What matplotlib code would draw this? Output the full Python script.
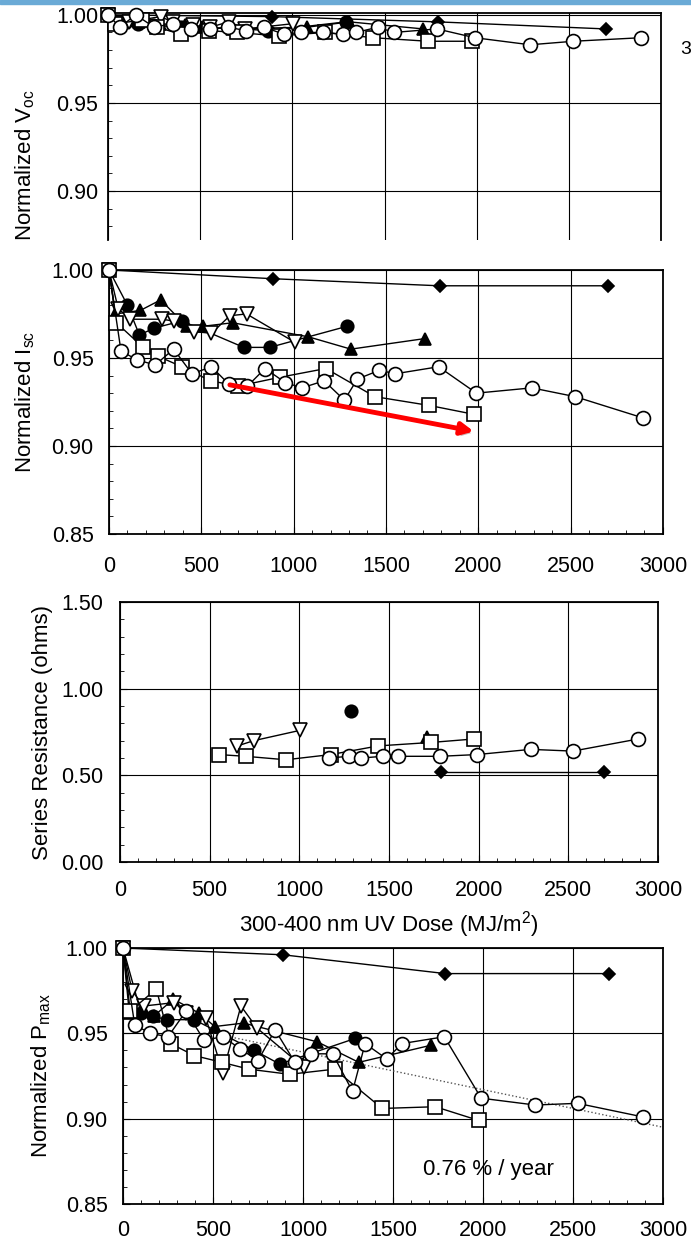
import numpy as np
import matplotlib.pyplot as plt
import matplotlib.patheffects as pe
from matplotlib.patches import Rectangle
from matplotlib.ticker import MultipleLocator, FormatStrFormatter

plt.rcParams['font.family'] = ['Liberation Sans', 'DejaVu Sans']
plt.rcParams['mathtext.default'] = 'regular'

# UV dose (MJ/m2) at which each module was measured
dia_x = [0, 890, 1790, 2700]
circ_x = [0, 65, 150, 250, 350, 450, 555, 650, 750, 845, 955, 1045, 1165,
          1275, 1345, 1465, 1550, 1785, 1990, 2290, 2525, 2890]
sq_x = [0, 40, 185, 265, 395, 550, 700, 925, 1175, 1440, 1735, 1975]
fcirc_x = [0, 100, 165, 245, 395, 730, 870, 1290]
ftri_x = [0, 35, 170, 280, 420, 510, 670, 1080, 1310, 1710]
dtri_x = [0, 50, 115, 285, 350, 460, 555, 655, 745, 1005]

# normalized Voc
voc_dia = [1.0, 0.999, 0.996, 0.992]
voc_circ = [1.0, 0.993, 1.0, 0.993, 0.995, 0.992, 0.992, 0.993, 0.991, 0.993, 0.989,
            0.990, 0.990, 0.989, 0.990, 0.993, 0.990, 0.992, 0.987, 0.983, 0.985, 0.987]
voc_sq = [1.0, 0.995, 0.997, 0.993, 0.989, 0.991, 0.990, 0.988, 0.990, 0.987, 0.985, 0.985]
voc_fcirc = [1.0, 0.996, 0.995, 0.994, 0.993, 0.992, 0.991, 0.996]
voc_ftri = [1.0, 0.995, 0.996, 0.995, 0.994, 0.993, 0.992, 0.993, 0.996, 0.992]
voc_dtri = [1.0, 0.995, 0.996, 0.999, 0.996, 0.994, 0.993, 0.996, 0.992, 0.995]

# normalized Isc
isc_dia = [1.0, 0.995, 0.991, 0.991]
isc_circ = [1.0, 0.954, 0.949, 0.946, 0.955, 0.941, 0.945, 0.935, 0.934, 0.944, 0.936,
            0.933, 0.937, 0.926, 0.938, 0.943, 0.941, 0.945, 0.930, 0.933, 0.928, 0.916]
isc_sq = [1.0, 0.970, 0.956, 0.951, 0.945, 0.937, 0.934, 0.939, 0.944, 0.928, 0.923, 0.918]
isc_fcirc = [1.0, 0.980, 0.963, 0.967, 0.971, 0.956, 0.956, 0.968]
isc_ftri = [1.0, 0.975, 0.977, 0.983, 0.968, 0.968, 0.970, 0.962, 0.955, 0.961]
isc_dtri = [1.0, 0.978, 0.972, 0.972, 0.971, 0.965, 0.964, 0.974, 0.975, 0.959]

# series resistance (ohms)
rs_dia_x = [1790, 2700]
rs_dia = [0.52, 0.52]
rs_circ_x = [1165, 1275, 1345, 1465, 1550, 1785, 1990, 2290, 2525, 2890]
rs_circ = [0.60, 0.61, 0.60, 0.61, 0.61, 0.61, 0.62, 0.65, 0.64, 0.71]
rs_sq_x = [550, 700, 925, 1175, 1440, 1735, 1975]
rs_sq = [0.62, 0.61, 0.59, 0.62, 0.67, 0.69, 0.71]
rs_fcirc_x = [1290]
rs_fcirc = [0.87]
rs_ftri_x = [1710]
rs_ftri = [0.72]
rs_dtri_x = [655, 745, 1005]
rs_dtri = [0.67, 0.70, 0.76]

# normalized Pmax
pm_dia = [1.0, 0.996, 0.985, 0.985]
pm_circ = [1.0, 0.955, 0.950, 0.948, 0.963, 0.946, 0.948, 0.941, 0.934, 0.952, 0.933,
           0.938, 0.938, 0.916, 0.944, 0.935, 0.944, 0.948, 0.912, 0.908, 0.909, 0.901]
pm_sq = [1.0, 0.963, 0.976, 0.944, 0.937, 0.933, 0.929, 0.926, 0.929, 0.906, 0.907, 0.899]
pm_fcirc = [1.0, 0.962, 0.960, 0.958, 0.958, 0.940, 0.932, 0.947]
pm_ftri = [1.0, 0.962, 0.960, 0.970, 0.962, 0.954, 0.956, 0.945, 0.933, 0.943]
pm_dtri = [1.0, 0.975, 0.966, 0.968, 0.962, 0.959, 0.927, 0.966, 0.953, 0.930]

# dotted trend line for Pmax
trend_x = [500, 3000]
trend_y = [0.950, 0.895]

# red arrow on the Isc panel
arrow_x = [640, 1990]
arrow_y = [0.935, 0.908]


# marker styles: diamond, filled triangle, filled circle, down triangle, square, circle
styles = [
    dict(marker="D", ms=6, mfc="black"),
    dict(marker="^", ms=9, mfc="black"),
    dict(marker="o", ms=9, mfc="black"),
    dict(marker="v", ms=9.5, mfc="white"),
    dict(marker="s", ms=9.5, mfc="white"),
    dict(marker="o", ms=10, mfc="white"),
]


def draw_series(ax, xs, ys):
    for x, y, st in zip(xs, ys, styles):
        ax.plot(x, y, color="black", lw=1.0, mec="black", mew=1.2,
                clip_on=False, zorder=3, **st)


def setup(ax, ylim, yticks, yminor, ypad, xpad):
    ax.set_xlim(0, 3000)
    ax.set_ylim(*ylim)
    ax.set_xticks(range(0, 3001, 500))
    ax.xaxis.set_minor_locator(MultipleLocator(100))
    ax.set_yticks(yticks)
    ax.yaxis.set_minor_locator(MultipleLocator(yminor))
    ax.yaxis.set_major_formatter(FormatStrFormatter("%.2f"))
    ax.grid(True, which="major", color="black", lw=0.8)
    ax.tick_params(which="both", direction="in", labelsize=15.5)
    ax.tick_params(which="major", length=5)
    ax.tick_params(which="minor", length=3)
    ax.tick_params(axis="y", pad=ypad)
    ax.tick_params(axis="x", pad=xpad)
    for s in ax.spines.values():
        s.set_linewidth(1.3)


fig = plt.figure(figsize=(6.91, 12.40), dpi=100)
fig.patches.append(Rectangle((0, 1 - 4 / 1240), 1, 4 / 1240, transform=fig.transFigure,
                             color="#6aaad6", zorder=0))
fig.text(0.984, 1 - 50 / 1240, "3", fontsize=14, va="center", ha="left")

# Voc (cut off at the bottom)
ax1 = fig.add_axes([0.1563, 0.8065, 0.8003, 0.1831])
setup(ax1, (0.8722, 1.0011), [0.90, 0.95, 1.00], 0.01, 7, 12)
ax1.spines["bottom"].set_visible(False)
ax1.tick_params(axis="x", which="both", bottom=False, labelbottom=False)
draw_series(ax1, [dia_x, ftri_x, fcirc_x, dtri_x, sq_x, circ_x],
            [voc_dia, voc_ftri, voc_fcirc, voc_dtri, voc_sq, voc_circ])
ax1.set_ylabel("Normalized V$_{oc}$", fontsize=16)
ax1.yaxis.set_label_coords(-0.128, 0.33)

# Isc
ax2 = fig.add_axes([0.1577, 0.5694, 0.8017, 0.2129])
setup(ax2, (0.85, 1.00), [0.85, 0.90, 0.95, 1.00], 0.01, 11, 16)
draw_series(ax2, [dia_x, ftri_x, fcirc_x, dtri_x, sq_x, circ_x],
            [isc_dia, isc_ftri, isc_fcirc, isc_dtri, isc_sq, isc_circ])
ax2.set_ylabel("Normalized I$_{sc}$", fontsize=16)
ax2.yaxis.set_label_coords(-0.130, 0.5)
ax2.annotate("", xy=(arrow_x[1], arrow_y[1]), xytext=(arrow_x[0], arrow_y[0]),
             arrowprops=dict(arrowstyle="-|>", color="#ff0000", lw=3.5,
                             mutation_scale=18,
                             path_effects=[pe.SimplePatchShadow(offset=(2, -2), alpha=0.3),
                                           pe.Normal()]),
             zorder=5)

# series resistance
ax3 = fig.add_axes([0.1737, 0.3048, 0.7786, 0.2097])
setup(ax3, (0, 1.5), [0, 0.5, 1.0, 1.5], 0.1, 12, 13)
draw_series(ax3, [rs_dia_x, rs_ftri_x, rs_fcirc_x, rs_dtri_x, rs_sq_x, rs_circ_x],
            [rs_dia, rs_ftri, rs_fcirc, rs_dtri, rs_sq, rs_circ])
ax3.set_ylabel("Series Resistance (ohms)", fontsize=16)
ax3.yaxis.set_label_coords(-0.125, 0.5)
ax3.set_xlabel("300-400 nm UV Dose (MJ/m$^2$)", fontsize=16, labelpad=6)

# Pmax
ax4 = fig.add_axes([0.178, 0.0290, 0.7815, 0.2065])
setup(ax4, (0.85, 1.00), [0.85, 0.90, 0.95, 1.00], 0.01, 11, 11.5)
ax4.plot(trend_x, trend_y, color="#555555", lw=1.0, ls=":", zorder=2)
draw_series(ax4, [dia_x, ftri_x, fcirc_x, dtri_x, sq_x, circ_x],
            [pm_dia, pm_ftri, pm_fcirc, pm_dtri, pm_sq, pm_circ])
ax4.text(2030, 0.870, "0.76 % / year", fontsize=16, ha="center", va="center")
ax4.set_ylabel("Normalized P$_{max}$", fontsize=16)
ax4.yaxis.set_label_coords(-0.130, 0.5)

plt.savefig("out.png", dpi=100)
